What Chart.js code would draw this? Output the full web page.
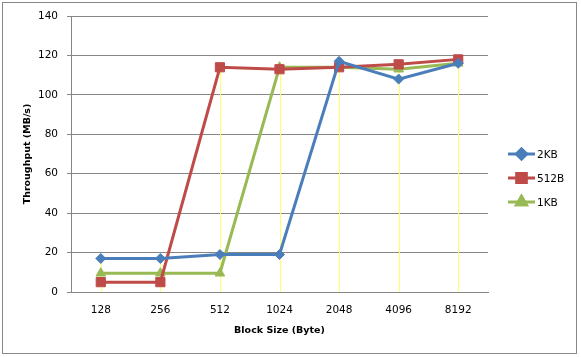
<!DOCTYPE html>
<html><head><meta charset="utf-8">
<script src="https://cdn.jsdelivr.net/npm/chart.js@4"></script>
<style>html,body{margin:0;padding:0;background:#fff}#c{display:block}</style>
</head><body>
<canvas id="c" width="581" height="357"></canvas>
<script>
const categories = ['128','256','512','1024','2048','4096','8192'];
const series2KB  = [17, 17, 19, 19, 117, 108, 116];
const series512B = [5, 5, 114, 113, 114, 115.5, 118];
const series1KB  = [9.5, 9.5, 9.5, 114, 114, 113, 116];
const yTicks = [0, 20, 40, 60, 80, 100, 120, 140];

const FONT = 'DejaVu Sans';

const frame = {
  id: 'frame',
  beforeDraw(chart) {
    const ctx = chart.ctx;
    ctx.save();
    ctx.fillStyle = '#fff';
    ctx.fillRect(0, 0, chart.width, chart.height);
    ctx.strokeStyle = '#888';
    ctx.lineWidth = 1;
    ctx.strokeRect(2.5, 2.5, 574, 351);
    ctx.restore();
  }
};

const dropLines = {
  id: 'dropLines',
  beforeDatasetsDraw(chart) {
    const ctx = chart.ctx, x = chart.scales.x, y = chart.scales.y;
    ctx.save();
    ctx.strokeStyle = '#ffff66';
    ctx.lineWidth = 1;
    categories.forEach((c, i) => {
      let m = -Infinity;
      chart.data.datasets.forEach(ds => { m = Math.max(m, ds.data[i]); });
      const px = Math.round(x.getPixelForValue(i)) + 0.5;
      ctx.beginPath();
      ctx.moveTo(px, y.getPixelForValue(m));
      ctx.lineTo(px, y.getPixelForValue(0));
      ctx.stroke();
    });
    ctx.restore();
  }
};

const legendPlugin = {
  id: 'customLegend',
  afterDraw(chart) {
    const ctx = chart.ctx;
    const ys = [154, 178, 202];
    ctx.save();
    chart.data.datasets.forEach((ds, i) => {
      const yy = ys[i];
      ctx.strokeStyle = ds.borderColor;
      ctx.lineWidth = 3;
      ctx.beginPath(); ctx.moveTo(508, yy); ctx.lineTo(535, yy); ctx.stroke();
      Chart.helpers.drawPoint(ctx, {pointStyle: ds.pointStyle, radius: ds.pointRadius, borderWidth: 1}, 521.5, yy);
      ctx.fillStyle = ds.borderColor;
      ctx.strokeStyle = ds.borderColor;
      ctx.beginPath();
      Chart.helpers.drawPoint(ctx, {pointStyle: ds.pointStyle, radius: ds.pointRadius, borderWidth: 1}, 521.5, yy);
      ctx.fillStyle = '#000';
      ctx.font = '10.5px ' + FONT;
      ctx.textBaseline = 'middle';
      ctx.textAlign = 'left';
      ctx.fillText(ds.label, 537, yy + 1);
    });
    ctx.restore();
  }
};

new Chart(document.getElementById('c'), {
  type: 'line',
  data: {
    labels: categories,
    datasets: [
      {label: '2KB', data: series2KB, borderColor: '#4a7ebb', backgroundColor: '#4a7ebb', pointStyle: 'rectRot', pointRadius: 5, borderWidth: 3, pointBorderWidth: 1},
      {label: '512B', data: series512B, borderColor: '#be4b48', backgroundColor: '#be4b48', pointStyle: 'rect', pointRadius: 6.5, borderWidth: 3, pointBorderWidth: 1},
      {label: '1KB', data: series1KB, borderColor: '#98b954', backgroundColor: '#98b954', pointStyle: 'triangle', pointRadius: 5.5, borderWidth: 3, pointBorderWidth: 1}
    ]
  },
  options: {
    responsive: false,
    animation: false,
    layout: {padding: {left: 17.4, right: 93, top: 16, bottom: 16.4}},
    plugins: {legend: {display: false}, tooltip: {enabled: false}},
    scales: {
      x: {
        offset: true,
        grid: {display: false, drawTicks: false},
        border: {display: true, color: '#868686', width: 1},
        ticks: {padding: 11.5, color: '#000', font: {family: FONT, size: 10.5}, maxRotation: 0},
        title: {display: true, text: 'Block Size (Byte)', color: '#000', font: {family: FONT, size: 9.5, weight: 'bold'}},
        afterFit(s) { s.height = 48.6; }
      },
      y: {
        min: 0, max: 140,
        afterBuildTicks(s) { s.ticks = yTicks.map(v => ({value: v})); },
        grid: {color: '#868686', tickLength: 4, drawTicks: true},
        border: {display: true, color: '#868686', width: 1},
        ticks: {padding: 9, color: '#000', font: {family: FONT, size: 10.5}},
        title: {display: true, text: 'Throughput (MB/s)', color: '#000', font: {family: FONT, size: 9.5, weight: 'bold'}},
        afterFit(s) { s.width = 53.6; }
      }
    }
  },
  plugins: [frame, dropLines, legendPlugin]
});
</script>
</body></html>
